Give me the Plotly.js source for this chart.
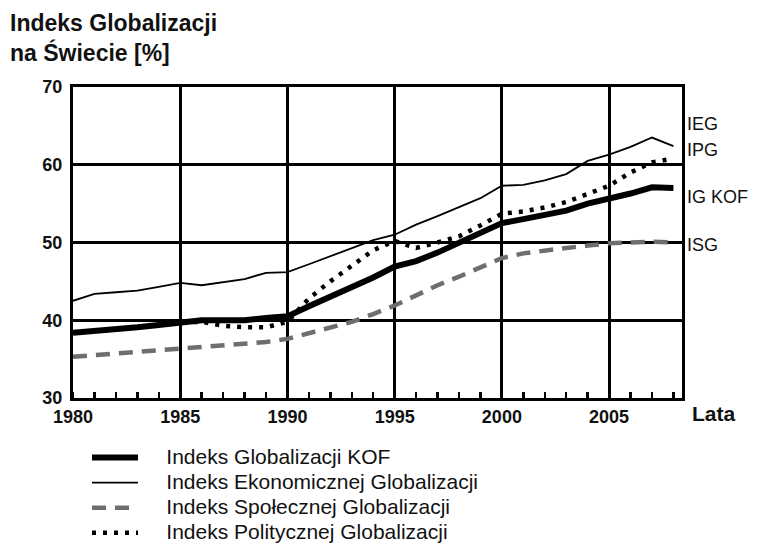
<!DOCTYPE html>
<html>
<head>
<meta charset="utf-8">
<script src="https://cdn.plot.ly/plotly-3.0.1.min.js"></script>
<style>html,body{margin:0;padding:0;background:#fff;}#chart{width:757px;height:546px;}</style>
</head>
<body>
<div id="chart"></div>
<script>
const years = [1980,1981,1982,1983,1984,1985,1986,1987,1988,1989,1990,1991,1992,1993,1994,1995,1996,1997,1998,1999,2000,2001,2002,2003,2004,2005,2006,2007,2008];
const kof = [38.4,38.6,38.8,39.1,39.4,39.7,40.0,40.0,40.0,40.3,40.5,41.8,43.0,44.2,45.5,46.9,47.6,48.7,49.9,51.2,52.5,53.0,53.5,54.1,55.0,55.6,56.3,57.1,57.0];
const ieg = [42.5,43.4,43.6,43.8,44.3,44.8,44.5,44.9,45.3,46.1,46.2,47.2,48.2,49.2,50.3,51.0,52.3,53.4,54.6,55.7,57.3,57.4,58.0,58.8,60.5,61.3,62.3,63.5,62.4];
const isg = [35.3,35.5,35.7,35.9,36.1,36.4,36.6,36.8,37.0,37.2,37.6,38.3,39.0,39.8,40.8,41.9,43.2,44.5,45.6,46.8,48.0,48.6,49.0,49.3,49.6,49.9,50.0,50.1,50.0];
const ipg = [38.4,38.6,38.8,39.1,39.4,39.7,39.8,39.3,39.1,39.1,39.8,42.8,45.0,47.0,49.0,50.2,49.3,50.0,50.8,52.2,53.7,54.0,54.5,55.2,56.2,57.3,59.0,60.3,60.8];

const names = ["Indeks Globalizacji KOF","Indeks Ekonomicznej Globalizacji","Indeks Społecznej Globalizacji","Indeks Politycznej Globalizacji"];
const shortLabels = ["IEG","IPG","IG KOF","ISG"];
const labelY = [65.3,61.9,55.8,49.7];
const yTicks = [30,40,50,60,70];
const xTicks = [1980,1985,1990,1995,2000,2005];
const titleText = "Indeks Globalizacji<br>na Świecie [%]";
const xAxisLabel = "Lata";

const FONT = "Liberation Sans, Arial, sans-serif";
const legName = n => '<span style="font-size:21px">\u00a0\u00a0\u00a0\u00a0' + n + '</span>';

const traces = [
  {x: years, y: ieg, name: legName(names[1]), mode: "lines", line: {color: "#000", width: 1.8}, legendrank: 2},
  {x: years, y: isg, name: legName(names[2]), mode: "lines", line: {color: "#6e6e6e", width: 4.5, dash: "14px,9px"}, legendrank: 3},
  {x: years, y: ipg, name: legName(names[3]), mode: "lines", line: {color: "#000", width: 4.5, dash: "4px,7px"}, legendrank: 4},
  {x: years, y: kof, name: legName(names[0]), mode: "lines", line: {color: "#000", width: 6}, legendrank: 1}
];

const annotations = shortLabels.map((t, i) => ({
  text: t, xref: "paper", x: 1, xanchor: "left", xshift: 3,
  yref: "y", y: labelY[i], yanchor: "middle", showarrow: false,
  font: {family: FONT, size: 18, color: "#111"}
}));
annotations.push({
  text: "<b>" + xAxisLabel + "</b>", xref: "paper", x: 1, xanchor: "left", xshift: 8,
  yref: "paper", y: 0, yanchor: "top", yshift: -2, showarrow: false,
  font: {family: FONT, size: 21, color: "#111"}
});
annotations.push({
  text: "<b>" + titleText + "</b>", xref: "paper", x: -0.1067, xanchor: "left", align: "left",
  yref: "paper", y: 1.254, yanchor: "top", showarrow: false,
  font: {family: FONT, size: 23, color: "#111"}
});

const layout = {
  width: 757, height: 546,
  margin: {l: 73, r: 75, t: 87, b: 148, autoexpand: false},
  paper_bgcolor: "#fff", plot_bgcolor: "#fff",
  xaxis: {
    range: [1980, 2008.4], tickvals: xTicks, ticktext: xTicks.map(String),
    showgrid: true, gridcolor: "#000", gridwidth: 3,
    showline: true, linecolor: "#000", linewidth: 3, mirror: true,
    ticks: "", zeroline: false,
    tickfont: {family: FONT, size: 18, color: "#111", weight: "bold"},
    minor: {dtick: 1, tick0: 1980, ticks: "inside", ticklen: 6, tickwidth: 2.5, tickcolor: "#000", showgrid: false}
  },
  yaxis: {
    range: [30, 70], tickvals: yTicks, ticktext: yTicks.map(String),
    showgrid: true, gridcolor: "#000", gridwidth: 3,
    showline: true, linecolor: "#000", linewidth: 3, mirror: true,
    ticks: "", zeroline: false, ticklabelstandoff: 4,
    tickfont: {family: FONT, size: 18, color: "#111", weight: "bold"}
  },
  showlegend: true,
  legend: {
    x: (87 - 73) / 609, xanchor: "left", xref: "paper",
    y: -(440 - 398) / 311, yanchor: "top", yref: "paper",
    traceorder: "normal", tracegroupgap: 0,
    itemwidth: 46,
    font: {family: FONT, size: 17, color: "#111"},
    bgcolor: "rgba(0,0,0,0)"
  },
  annotations: annotations
};

Plotly.newPlot("chart", traces, layout, {displayModeBar: false, staticPlot: true});
</script>
</body>
</html>
